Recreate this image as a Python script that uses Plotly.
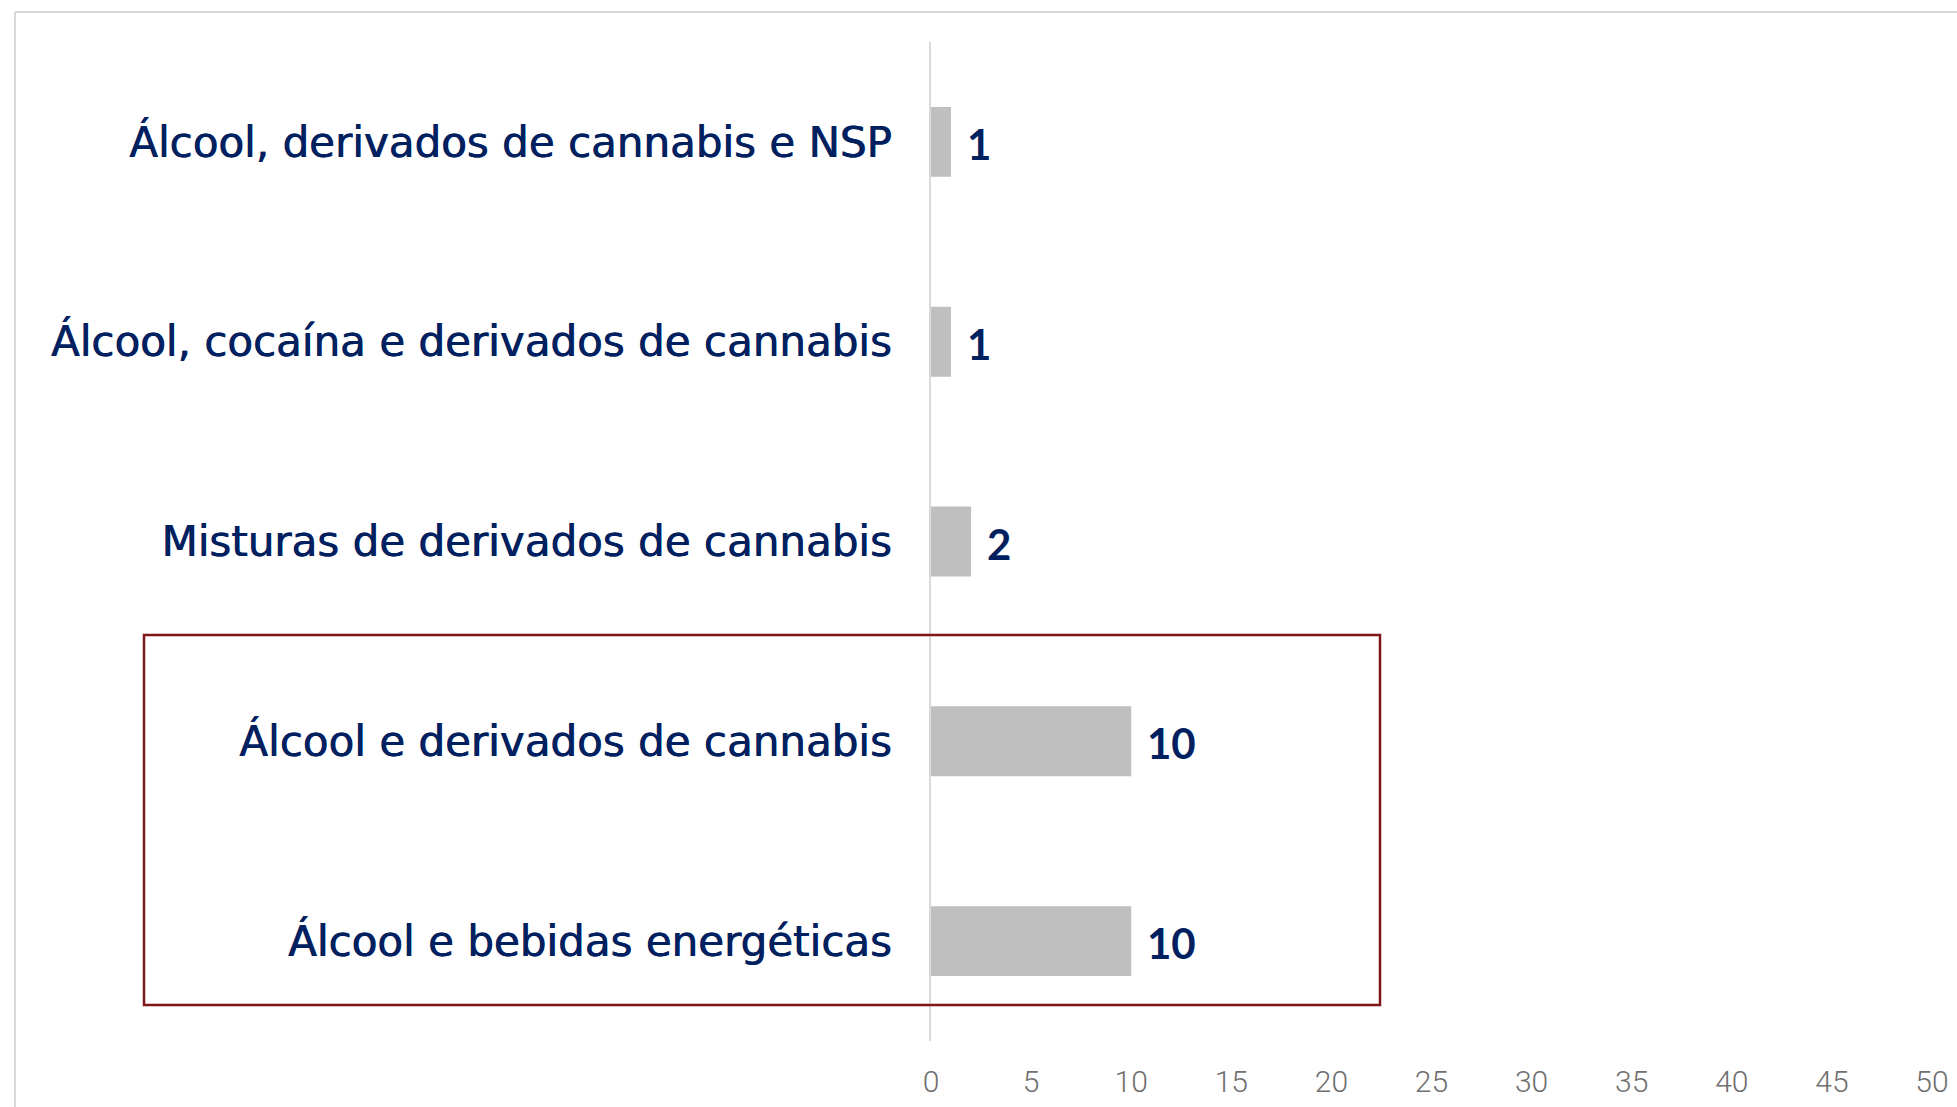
import plotly.graph_objects as go

# ---- data ----
categories = [
    "Álcool, derivados de cannabis e NSP",
    "Álcool, cocaína e derivados de cannabis",
    "Misturas de derivados de cannabis",
    "Álcool e derivados de cannabis",
    "Álcool e bebidas energéticas",
]
values = [1, 1, 2, 10, 10]
x_ticks = [0, 5, 10, 15, 20, 25, 30, 35, 40, 45, 50]

W, H = 1957, 1107
ML, MR, MT, MB = 931, 25, 42, 66
PW, PH = W - ML - MR, H - MT - MB


def px(xp):
    return (xp - ML) / PW


def py(yp):
    return (H - MB - yp) / PH


NAVY = "#002060"

fig = go.Figure()
fig.add_trace(go.Bar(
    x=values, y=categories, orientation="h",
    marker=dict(color="#BFBFBF", line=dict(width=0)),
    width=0.35, hoverinfo="skip",
))

for c, v in zip(categories, values):
    fig.add_annotation(
        x=v, y=c, xref="x", yref="y", text=str(v), showarrow=False,
        xanchor="left", yanchor="middle", xshift=14, yshift=-2,
        font=dict(family="Lato", size=42, color=NAVY, weight="bold"),
    )

# outer light frame
fig.add_shape(type="line", xref="paper", yref="paper",
              x0=px(15), x1=px(15), y0=py(12), y1=py(1150),
              line=dict(color="#D9D9D9", width=2), layer="below")
fig.add_shape(type="line", xref="paper", yref="paper",
              x0=px(15), x1=px(2000), y0=py(12), y1=py(12),
              line=dict(color="#D9D9D9", width=2), layer="below")

# highlight rectangle
fig.add_shape(type="rect", xref="paper", yref="paper",
              x0=px(144), x1=px(1380), y0=py(635), y1=py(1005),
              line=dict(color="#7E1517", width=2.5), fillcolor="rgba(0,0,0,0)")

fig.update_layout(
    width=W, height=H,
    margin=dict(l=ML, r=MR, t=MT, b=MB, pad=0, autoexpand=False),
    paper_bgcolor="white", plot_bgcolor="white",
    showlegend=False,
    xaxis=dict(
        range=[0, 50], tickvals=x_ticks, ticktext=[str(t) for t in x_ticks],
        showgrid=False, zeroline=False, showline=False, ticks="",
        tickfont=dict(family="Roboto", size=30, color="#6F6F6F", weight=300),
        ticklabelstandoff=20, automargin=False,
    ),
    yaxis=dict(
        type="category", categoryorder="array", categoryarray=categories,
        autorange="reversed",
        showgrid=False, zeroline=False, showline=True,
        linecolor="#D9D9D9", linewidth=2, ticks="",
        tickfont=dict(family="DejaVu Sans", size=42, color=NAVY,
                      shadow="0.8px 0px 0px #002060"),
        ticklabelstandoff=29, automargin=False,
    ),
)

post = (
    "document.body.style.margin='0';"
    "document.body.style.overflow='hidden';"
    "document.documentElement.style.overflow='hidden';"
)
fig.write_html("out.html", post_script=post, config={"displayModeBar": False})
